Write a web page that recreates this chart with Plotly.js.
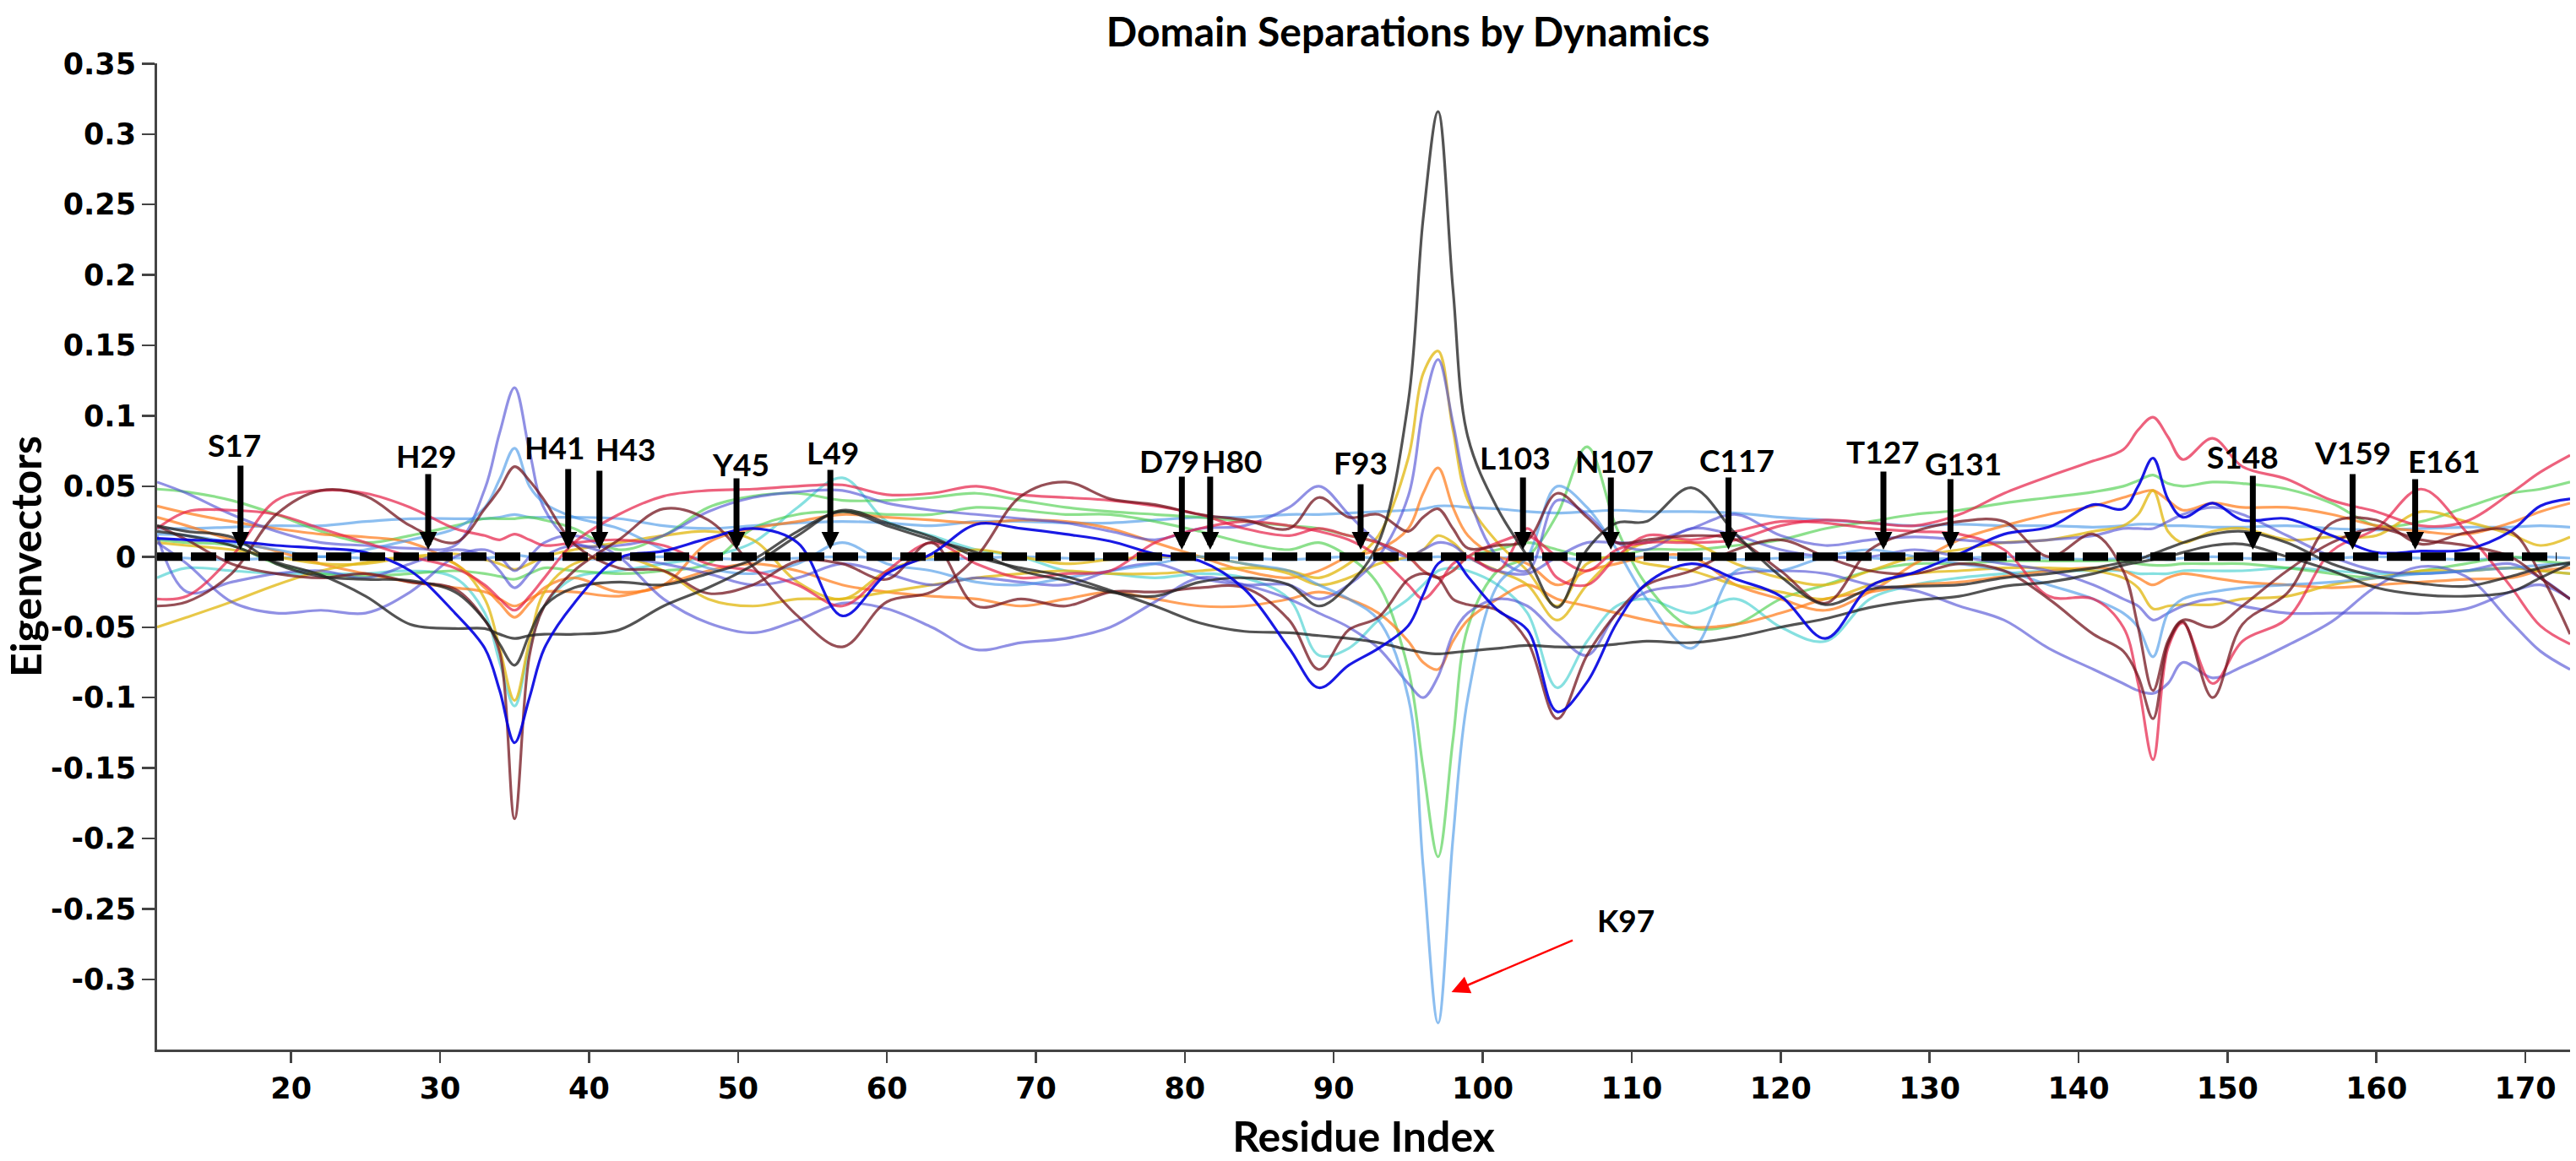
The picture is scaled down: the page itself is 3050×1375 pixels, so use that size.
<!DOCTYPE html>
<html>
<head>
<meta charset="utf-8">
<script src="https://cdn.plot.ly/plotly-3.0.1.min.js"></script>
<style>
html,body{margin:0;padding:0;background:#ffffff;}
#chart{width:3050px;height:1375px;}
</style>
</head>
<body>
<div id="chart"></div>
<script>
// ---------------- data ----------------
const residues = [11,13,16,19,22,25,28,31, 33,34,35,36,37, 39,42,45,48,51,54,57,60, 63,66,69,72,75,78,81,84, 87,89,91,93,95, 96,97,98,99,101, 103,105,107,109,111, 114,117,120,123,126,129,132,135, 138,141,143,144,145,146,147,149, 151,154,157,160,163,166,169,171,173];

const darkGrayA = [0.022,0.018,0.014,-0.005,-0.014,-0.016,-0.017,-0.025,
 -0.045,-0.062,-0.077,-0.055,-0.035,
 -0.022,-0.018,-0.02,-0.012,-0.002,0.018,0.032,0.022,
 0.012,0.003,-0.01,-0.017,-0.025,-0.028,-0.018,-0.015,
 -0.02,-0.035,-0.02,0.01,0.11,
 0.24,0.316,0.19,0.085,0.034,
 0.0,-0.036,0.005,0.024,0.025,
 0.049,0.016,-0.014,-0.034,-0.023,-0.021,-0.02,-0.015,
 -0.012,-0.008,-0.004,-0.002,0.002,0.006,0.01,0.016,
 0.018,0.01,-0.005,-0.014,-0.019,-0.021,-0.014,-0.008,-0.004];

const darkGrayB = [0.018,0.015,0.008,-0.004,-0.013,-0.028,-0.048,-0.051,
 -0.051,-0.055,-0.058,-0.056,-0.055,
 -0.055,-0.052,-0.035,-0.022,-0.006,0.015,0.033,0.024,
 0.014,0.0,-0.008,-0.014,-0.024,-0.035,-0.047,-0.053,
 -0.054,-0.056,-0.058,-0.061,-0.066,
 -0.068,-0.069,-0.068,-0.067,-0.065,
 -0.063,-0.064,-0.064,-0.062,-0.06,
 -0.061,-0.057,-0.05,-0.044,-0.036,-0.031,-0.028,-0.021,
 -0.018,-0.012,-0.006,-0.004,-0.002,0.0,0.003,0.008,
 0.009,0.0,-0.01,-0.022,-0.027,-0.028,-0.025,-0.015,-0.005];

const blueA = [0.013,0.012,0.011,0.008,0.006,0.003,-0.01,-0.04,
 -0.065,-0.095,-0.132,-0.1,-0.065,
 -0.033,-0.001,0.004,0.013,0.02,0.01,-0.042,-0.012,
 0.002,0.023,0.02,0.016,0.011,0.002,-0.003,-0.023,
 -0.065,-0.093,-0.077,-0.065,-0.049,
 -0.027,-0.005,-0.001,-0.014,-0.038,
 -0.052,-0.11,-0.089,-0.047,-0.019,
 -0.005,-0.016,-0.028,-0.058,-0.021,-0.011,0.002,0.016,
 0.021,0.037,0.034,0.05,0.07,0.041,0.028,0.038,
 0.026,0.027,0.015,0.003,0.004,0.005,0.018,0.036,0.041];

const maroonA = [0.022,0.012,-0.005,-0.012,-0.015,-0.012,-0.018,-0.023,
 -0.045,-0.068,-0.186,-0.07,-0.035,
 -0.01,0.012,0.034,0.026,-0.007,-0.042,-0.064,-0.032,
 -0.025,0.0,0.043,0.053,0.041,0.037,0.03,0.026,
 0.02,0.042,0.028,0.03,0.018,
 0.028,0.034,0.02,0.006,0.008,
 0.012,0.045,0.028,0.01,0.012,
 0.015,0.012,-0.01,-0.033,0.005,0.018,0.025,0.025,
 0.0,0.016,-0.01,-0.05,-0.095,-0.06,-0.045,-0.05,
 -0.035,-0.01,0.01,0.02,0.012,0.008,0.0,-0.015,-0.03];

const maroonB = [-0.035,-0.032,-0.012,0.03,0.047,0.043,0.022,0.01,
 0.034,0.048,0.064,0.054,0.04,
 0.009,-0.008,-0.01,-0.026,-0.02,-0.003,-0.005,-0.016,
 0.01,-0.035,-0.03,-0.035,-0.025,-0.025,-0.022,-0.022,
 -0.045,-0.08,-0.052,-0.043,-0.016,
 -0.012,-0.015,-0.03,-0.034,-0.038,
 -0.06,-0.115,-0.07,-0.04,-0.02,
 -0.01,0.005,0.012,0.0,-0.01,-0.012,-0.005,-0.01,
 -0.03,-0.055,-0.067,-0.085,-0.115,-0.062,-0.046,-0.1,
 -0.048,-0.026,0.024,0.026,0.009,0.017,0.018,-0.012,-0.055];

const purpleA = [0.053,0.045,0.03,0.018,0.01,0.008,0.006,0.008,
 0.048,0.088,0.12,0.075,0.034,
 0.01,0.008,0.015,0.032,0.042,0.046,0.047,0.038,
 0.033,0.03,0.027,0.024,0.018,0.012,0.02,0.022,
 0.035,0.05,0.03,0.01,0.0,
 0.005,0.01,0.008,0.0,-0.01,
 -0.012,0.0,0.01,0.01,0.01,
 0.02,0.03,0.015,0.008,0.012,0.014,0.012,0.01,
 0.012,0.015,0.02,0.02,0.02,0.025,0.03,0.035,
 0.03,0.015,0.0,-0.01,-0.012,-0.01,-0.005,-0.015,-0.03];

const purpleB = [0.015,-0.025,-0.018,-0.012,-0.01,-0.015,-0.005,0.005,
 0.0,-0.01,-0.022,-0.012,0.0,
 0.008,0.0,-0.005,-0.012,-0.02,-0.015,-0.005,-0.012,
 -0.02,-0.015,-0.018,-0.02,-0.01,-0.005,-0.015,-0.02,
 -0.02,-0.03,-0.02,0.0,0.043,
 0.105,0.14,0.095,0.045,0.0,
 -0.01,0.04,0.03,0.01,0.005,
 0.02,0.015,0.005,0.0,0.0,0.005,0.0,-0.005,
 -0.01,-0.02,-0.03,-0.035,-0.045,-0.04,-0.035,-0.03,
 -0.035,-0.04,-0.04,-0.04,-0.04,-0.037,-0.025,-0.02,-0.03];

const purpleC = [0.01,-0.005,-0.032,-0.04,-0.038,-0.04,-0.025,0.0,
 0.005,0.0,-0.01,0.0,0.01,
 0.015,0.0,-0.03,-0.047,-0.054,-0.045,-0.033,-0.037,
 -0.05,-0.066,-0.061,-0.058,-0.05,-0.032,-0.015,-0.02,
 -0.03,-0.04,-0.05,-0.065,-0.09,
 -0.1,-0.085,-0.055,-0.04,-0.03,
 -0.035,-0.055,-0.07,-0.04,-0.025,
 -0.02,-0.012,-0.01,-0.012,-0.02,-0.024,-0.035,-0.045,
 -0.065,-0.08,-0.09,-0.095,-0.097,-0.09,-0.075,-0.086,
 -0.078,-0.063,-0.046,-0.021,-0.007,-0.014,-0.046,-0.067,-0.08];

const lightBlueA = [0.016,0.015,0.01,0.005,0.0,0.005,0.012,0.02,
 0.035,0.055,0.077,0.05,0.038,
 0.028,0.02,0.005,-0.008,-0.012,-0.005,0.01,-0.005,
 -0.01,-0.018,-0.02,-0.015,-0.01,-0.005,0.0,-0.005,
 -0.01,-0.02,-0.03,-0.045,-0.1,
 -0.22,-0.331,-0.2,-0.1,-0.02,
 0.0,0.05,0.035,0.005,-0.03,
 -0.065,-0.01,-0.01,0.0,0.005,0.0,-0.005,-0.01,
 -0.02,-0.03,-0.04,-0.05,-0.071,-0.04,-0.03,-0.025,
 -0.022,-0.02,-0.018,-0.015,-0.012,-0.01,-0.008,-0.006,-0.005];

const lightBlueB = [0.02,0.02,0.021,0.022,0.022,0.025,0.027,0.027,
 0.027,0.028,0.03,0.028,0.028,
 0.028,0.027,0.022,0.02,0.022,0.024,0.025,0.024,
 0.022,0.025,0.025,0.024,0.024,0.026,0.028,0.028,
 0.03,0.03,0.031,0.032,0.033,
 0.034,0.036,0.036,0.035,0.034,
 0.032,0.031,0.032,0.033,0.032,
 0.032,0.031,0.028,0.026,0.024,0.022,0.023,0.022,
 0.022,0.021,0.022,0.023,0.023,0.022,0.022,0.021,
 0.021,0.022,0.02,0.019,0.02,0.021,0.021,0.022,0.021];

const lightBlueC = [0.0,-0.001,-0.002,-0.001,0.0,-0.001,-0.002,-0.001,
 -0.001,0.0,0.001,0.0,-0.001,
 -0.002,-0.001,0.0,-0.001,-0.002,-0.001,0.0,-0.001,
 -0.002,-0.001,0.0,-0.001,-0.002,-0.001,0.0,-0.001,
 -0.002,-0.001,0.0,-0.001,-0.002,
 -0.001,0.0,-0.001,-0.002,-0.001,
 0.0,-0.001,-0.002,-0.001,0.0,
 -0.001,-0.002,-0.001,0.0,-0.001,-0.002,-0.001,0.0,
 -0.001,-0.002,-0.001,0.0,-0.001,-0.002,-0.001,0.0,
 -0.001,-0.002,-0.001,0.0,-0.001,-0.002,-0.001,0.0,-0.001];

const redA = [0.02,0.032,0.033,0.03,0.02,0.01,0.0,-0.008,
 -0.02,-0.03,-0.038,-0.028,-0.015,
 0.01,0.03,0.043,0.047,0.048,0.05,0.051,0.044,
 0.045,0.05,0.044,0.042,0.04,0.036,0.03,0.02,
 0.015,0.02,0.015,0.01,0.0,
 -0.01,-0.015,-0.01,0.0,0.01,
 0.015,0.0,-0.01,0.005,0.01,
 0.01,0.012,0.022,0.026,0.024,0.022,0.03,0.045,
 0.057,0.068,0.076,0.09,0.099,0.085,0.069,0.084,
 0.064,0.055,0.04,0.032,0.022,0.025,0.045,0.06,0.072];

const redB = [-0.03,-0.028,0.0,0.04,0.047,0.045,0.035,0.02,
 0.015,0.012,0.016,0.012,0.008,
 0.01,0.012,0.008,-0.005,-0.01,-0.02,-0.035,-0.01,
 0.01,-0.005,-0.015,-0.012,-0.01,0.01,0.02,0.025,
 0.022,0.018,0.012,0.0,-0.02,
 -0.03,-0.02,-0.005,0.0,-0.01,
 0.02,-0.015,-0.02,0.0,0.015,
 0.012,0.018,0.025,0.024,0.02,0.018,0.016,0.005,
 -0.028,-0.03,-0.05,-0.09,-0.144,-0.065,-0.047,-0.09,
 -0.06,-0.044,0.004,0.02,0.048,0.018,-0.021,-0.049,-0.062];

const orangeA = [0.036,0.031,0.025,0.02,0.016,0.014,0.01,-0.005,
 -0.022,-0.033,-0.043,-0.033,-0.022,
 -0.015,-0.025,-0.02,0.01,0.02,0.025,0.03,0.028,
 0.026,0.024,0.026,0.025,0.02,0.01,0.0,-0.01,
 -0.015,-0.01,0.0,0.005,0.02,
 0.045,0.063,0.035,0.015,0.0,
 -0.005,-0.02,-0.01,-0.005,0.0,
 0.0,-0.02,-0.03,-0.038,-0.025,-0.005,0.012,0.022,
 0.03,0.036,0.042,0.045,0.047,0.04,0.033,0.038,
 0.035,0.035,0.03,0.022,0.018,0.016,0.024,0.032,0.038];

const orangeB = [0.028,0.022,0.012,0.004,-0.005,-0.012,-0.018,-0.022,
 -0.025,-0.03,-0.035,-0.03,-0.025,
 -0.025,-0.028,-0.02,-0.01,-0.005,-0.01,-0.02,-0.025,
 -0.028,-0.03,-0.035,-0.03,-0.025,-0.03,-0.035,-0.035,
 -0.03,-0.025,-0.03,-0.04,-0.06,
 -0.075,-0.08,-0.06,-0.045,-0.03,
 -0.02,-0.03,-0.035,-0.04,-0.045,
 -0.05,-0.048,-0.04,-0.03,-0.025,-0.02,-0.018,-0.014,
 -0.01,-0.008,-0.01,-0.015,-0.02,-0.015,-0.012,-0.015,
 -0.018,-0.02,-0.022,-0.02,-0.018,-0.016,-0.015,-0.01,-0.008];

const yellowA = [-0.05,-0.043,-0.032,-0.02,-0.01,-0.004,0.0,-0.005,
 -0.03,-0.065,-0.102,-0.06,-0.025,
 -0.005,0.0,-0.01,-0.03,-0.035,-0.03,-0.03,-0.025,
 -0.02,-0.015,-0.012,-0.01,-0.012,-0.012,-0.01,-0.008,
 -0.01,-0.015,-0.005,0.015,0.07,
 0.13,0.146,0.09,0.04,0.01,
 -0.01,-0.035,-0.005,0.0,-0.005,
 -0.01,-0.02,-0.025,-0.03,-0.02,-0.012,-0.01,-0.008,
 -0.008,-0.01,-0.015,-0.022,-0.037,-0.035,-0.034,-0.034,
 -0.03,-0.028,-0.02,-0.015,-0.01,-0.01,-0.008,-0.01,-0.012];

const yellowB = [0.01,0.008,0.005,0.0,-0.005,-0.005,0.0,0.002,
 -0.002,-0.005,-0.009,-0.005,0.0,
 0.005,0.01,0.015,0.018,0.012,-0.018,-0.03,-0.01,
 0.0,0.005,0.0,-0.005,-0.002,0.0,0.0,-0.005,
 -0.012,-0.02,-0.015,-0.005,0.0,
 0.005,0.015,0.01,0.0,-0.01,
 -0.02,-0.045,-0.02,0.0,0.01,
 0.01,-0.005,-0.015,-0.02,-0.01,0.0,0.005,0.01,
 0.012,0.018,0.022,0.03,0.047,0.018,0.01,0.018,
 0.02,0.012,0.014,0.015,0.032,0.025,0.016,0.008,0.014];

const cyanA = [-0.015,-0.008,-0.01,-0.012,-0.012,-0.012,-0.01,-0.015,
 -0.04,-0.075,-0.106,-0.065,-0.035,
 -0.015,-0.01,-0.005,0.0,0.01,0.035,0.056,0.025,
 0.015,0.005,0.0,-0.01,-0.012,-0.015,-0.012,-0.015,
 -0.03,-0.07,-0.065,-0.045,-0.03,
 -0.02,-0.01,-0.008,-0.01,-0.02,
 -0.04,-0.093,-0.06,-0.035,-0.03,
 -0.04,-0.03,-0.05,-0.06,-0.03,-0.02,-0.015,-0.012,
 -0.01,-0.01,-0.01,-0.012,-0.012,-0.012,-0.01,-0.01,
 -0.01,-0.008,-0.01,-0.012,-0.012,-0.01,-0.008,-0.01,-0.012];

const greenA = [0.012,0.01,0.008,-0.005,-0.012,-0.014,-0.012,-0.01,
 -0.012,-0.014,-0.016,-0.012,-0.008,
 -0.01,-0.012,-0.01,-0.005,0.02,0.03,0.032,0.03,
 0.03,0.035,0.033,0.03,0.03,0.025,0.018,0.01,
 0.005,0.01,0.0,-0.02,-0.08,
 -0.15,-0.213,-0.13,-0.05,-0.01,
 0.0,0.03,0.078,0.02,-0.02,
 -0.05,-0.048,-0.03,-0.02,-0.01,-0.005,-0.005,-0.003,
 -0.003,-0.003,-0.003,-0.005,-0.006,-0.006,-0.005,-0.005,
 -0.005,-0.008,-0.012,-0.015,-0.01,-0.005,0.0,-0.003,-0.005];

const greenB = [0.048,0.046,0.04,0.03,0.018,0.01,0.015,0.022,
 0.027,0.027,0.027,0.028,0.026,
 0.02,0.005,0.015,0.035,0.043,0.045,0.04,0.04,
 0.042,0.045,0.04,0.035,0.032,0.03,0.028,0.025,
 0.022,0.02,0.015,0.01,0.0,
 -0.01,-0.015,-0.01,0.0,0.005,
 0.01,0.005,0.0,0.0,0.005,
 0.005,0.008,0.012,0.02,0.025,0.03,0.033,0.038,
 0.042,0.046,0.05,0.054,0.058,0.052,0.05,0.053,
 0.052,0.048,0.038,0.022,0.025,0.035,0.045,0.048,0.053];

// tick labels
const xTickValues = [20,30,40,50,60,70,80,90,100,110,120,130,140,150,160,170];
const xTickLabels = ['20','30','40','50','60','70','80','90','100','110','120','130','140','150','160','170'];
const yTickValues = [-0.3,-0.25,-0.2,-0.15,-0.1,-0.05,0,0.05,0.1,0.15,0.2,0.25,0.3,0.35];
const yTickLabels = ['-0.3','-0.25','-0.2','-0.15','-0.1','-0.05','0','0.05','0.1','0.15','0.2','0.25','0.3','0.35'];

// marked residues (arrow positions on the residue axis)
const siteLabels   = ['S17','H29','H41','H43','Y45','L49','D79','H80','F93','L103','N107','C117','T127','G131','S148','V159','E161'];
const siteResidues = [16.6, 29.2, 38.6, 40.7, 49.9, 56.2, 79.8, 81.7, 91.8, 102.7, 108.6, 116.5, 126.9, 131.4, 151.7, 158.4, 162.6];
const highlightLabel = 'K97';
const highlightResidue = 97.9;
const highlightValue = -0.309;

// ---------------- styling / layout (not data) ----------------
const tailLift  = [-101,-91,-97,-95,-86,-96,-88,-88,-79,-87,-87,-87,-94,-85,-89,-91,-85]; // arrow length (px)
const textLift  = [133,120,130,128,110,124,114,114,112,118,114,115,125,111,119,124,114]; // label centre above zero (px)
const textShift = [-7,-2,-16,31,5,3,-15,26,0,-9,4,10,0,15,-12,0,34];                    // label horizontal offset (px)

const C = {
  gray:'rgba(35,35,35,0.78)', blue:'rgba(0,0,225,0.9)', maroon:'rgba(115,20,30,0.75)',
  purple:'rgba(70,70,210,0.6)', lblue:'rgba(70,150,230,0.62)', red:'rgba(230,30,70,0.7)',
  orange:'rgba(255,120,20,0.7)', yellow:'rgba(225,185,20,0.78)', cyan:'rgba(60,205,205,0.62)',
  green:'rgba(70,205,70,0.62)'
};

const seriesList = [
  [lightBlueC, C.lblue], [lightBlueB, C.lblue], [cyanA, C.cyan], [greenB, C.green], [greenA, C.green],
  [orangeB, C.orange], [orangeA, C.orange], [yellowB, C.yellow], [yellowA, C.yellow],
  [purpleC, C.purple], [purpleB, C.purple], [purpleA, C.purple], [lightBlueA, C.lblue],
  [redB, C.red], [redA, C.red], [maroonB, C.maroon], [maroonA, C.maroon],
  [darkGrayB, C.gray], [darkGrayA, C.gray], [blueA, C.blue]
];

const traces = seriesList.map(([ys, col]) => ({
  type:'scatter', mode:'lines', x: residues, y: ys,
  line:{color: col, width: 3.2, shape:'spline', smoothing: 1},
  hoverinfo:'skip', showlegend:false
}));

const labelFont = {family:'Lato, "Open Sans", sans-serif', size:37, color:'#000', weight:'bold'};
const annotations = [];
siteLabels.forEach((lab, i) => {
  annotations.push({x: siteResidues[i], y: 0.005, xref:'x', yref:'y', text:'', showarrow:true,
    arrowhead:2, arrowsize:0.6, arrowwidth:7, arrowcolor:'#000', ax:0, ay: tailLift[i], standoff:0});
  annotations.push({x: siteResidues[i], y: 0, xref:'x', yref:'y', text: lab, showarrow:false,
    xshift: textShift[i], yshift: textLift[i], xanchor:'center', yanchor:'middle', font: labelFont});
});
annotations.push({x: highlightResidue, y: highlightValue, xref:'x', yref:'y', text:'', showarrow:true,
  arrowhead:2, arrowsize:1.7, arrowwidth:2.5, arrowcolor:'#ff0000', ax:145, ay:-62, standoff:0});
annotations.push({x: highlightResidue, y: highlightValue, xref:'x', yref:'y', text: highlightLabel, showarrow:false,
  xshift:206, yshift:85, xanchor:'center', yanchor:'middle', font: labelFont});

const axisCol = '#444';
const layout = {
  width:3050, height:1375,
  margin:{l:186, r:7, t:75, b:132, pad:0},
  paper_bgcolor:'#ffffff', plot_bgcolor:'#ffffff',
  showlegend:false,
  title:{text:'Domain Separations by Dynamics', x:0.5466, xref:'container', xanchor:'center',
         y:0.972, yref:'container', yanchor:'middle',
         font:{family:'Lato, "Open Sans", sans-serif', size:48, color:'#000', weight:'bold'}},
  xaxis:{range:[11,173], tickvals:xTickValues, ticktext:xTickLabels, ticks:'outside', ticklen:13, tickwidth:2.5,
         tickcolor:axisCol, showline:true, linecolor:axisCol, linewidth:3, showgrid:false, zeroline:false,
         tickfont:{family:'"DejaVu Sans", sans-serif', size:35, color:'#000', weight:'bold'},
         title:{text:'Residue Index', standoff:38, font:{family:'Lato, "Open Sans", sans-serif', size:50, color:'#000', weight:'bold'}}},
  yaxis:{range:[-0.3498,0.3502], tickvals:yTickValues, ticktext:yTickLabels, ticks:'outside', ticklen:15, tickwidth:2.5,
         tickcolor:axisCol, showline:true, linecolor:axisCol, linewidth:3, showgrid:false, zeroline:false,
         tickfont:{family:'"DejaVu Sans", sans-serif', size:35, color:'#000', weight:'bold'},
         title:{text:'Eigenvectors', standoff:10, font:{family:'Lato, "Open Sans", sans-serif', size:50, color:'#000', weight:'bold'}}},
  shapes:[{type:'line', xref:'x', yref:'y', x0:11, x1:172.1, y0:0, y1:0, layer:'above',
           line:{color:'#000', width:10, dash:'30px,10px'}}],
  annotations: annotations
};

Plotly.newPlot('chart', traces, layout, {staticPlot:true, displayModeBar:false});
</script>
</body>
</html>
